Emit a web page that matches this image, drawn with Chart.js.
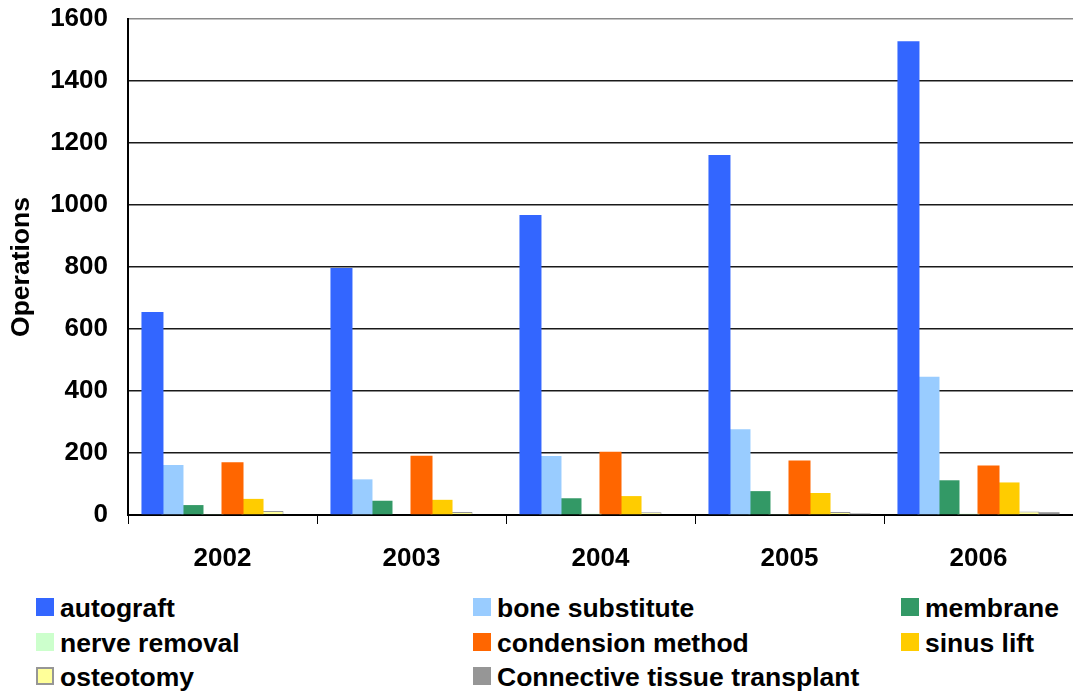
<!DOCTYPE html>
<html>
<head>
<meta charset="utf-8">
<title>Operations 2002-2006</title>
<script src="https://cdn.jsdelivr.net/npm/chart.js@4.4.1/dist/chart.umd.min.js"></script>
<style>
    html, body { margin: 0; padding: 0; background: #fff; }
    #wrap { position: relative; width: 1073px; height: 693px; overflow: hidden; }
    #operationsChart { position: absolute; left: 0; top: 0; }
    .legend-box { position: absolute; width: 18px; height: 18px; box-sizing: border-box; }
    .legend-text { position: absolute; font: bold 26.5px "Liberation Sans", Arial, sans-serif; line-height: 26px; color: #000; white-space: nowrap; }
</style>
</head>
<body>
<div id="wrap">
    <canvas id="operationsChart" width="1073" height="580"></canvas>
    <div id="legend"></div>
</div>
<script>
// data
const years = ['2002', '2003', '2004', '2005', '2006'];
const autograft = [655, 797, 968, 1161, 1528];
const boneSubstitute = [161, 115, 190, 277, 446];
const membrane = [32, 46, 54, 77, 112];
const nerveRemoval = [3, 0, 4, 3, 4];
const condensionMethod = [170, 191, 204, 176, 160];
const sinusLift = [52, 49, 61, 71, 105];
const osteotomy = [13, 10, 9, 10, 11];
const connectiveTissue = [0, 0, 0, 5, 9];
const yTicks = [0, 200, 400, 600, 800, 1000, 1200, 1400, 1600];

const seriesNames = ['autograft', 'bone substitute', 'membrane', 'nerve removal',
    'condension method', 'sinus lift', 'osteotomy', 'Connective tissue transplant'];
const seriesData = [autograft, boneSubstitute, membrane, nerveRemoval,
    condensionMethod, sinusLift, osteotomy, connectiveTissue];
const seriesColors = ['#3366FF', '#99CCFF', '#339966', '#CCFFCC', '#FF6600', '#FFCC00', '#FFFF99', '#969696'];
const seriesBorders = ['#3366FF', '#99CCFF', '#339966', '#CCFFCC', '#FF6600', '#FFCC00', '#969696', '#969696'];

document.addEventListener('DOMContentLoaded', function() {
    const font = { family: '"Liberation Sans", Arial, sans-serif', weight: 'bold', size: 26 };

    const ctx = document.getElementById('operationsChart').getContext('2d');
    const datasets = seriesNames.map(function(name, i) {
        return {
            label: name,
            data: seriesData[i],
            backgroundColor: seriesColors[i],
            borderColor: seriesBorders[i],
            borderWidth: i === 6 ? 1 : 0,
            categoryPercentage: 0.847,
            barPercentage: 1.1
        };
    });

    const operationsChart = new Chart(ctx, {
        type: 'bar',
        data: { labels: years, datasets: datasets },
        options: {
            responsive: false,
            devicePixelRatio: 1,
            animation: false,
            layout: { padding: 0 },
            plugins: {
                legend: { display: false },
                tooltip: { enabled: false }
            },
            scales: {
                x: {
                    grid: {
                        offset: true,
                        drawOnChartArea: false,
                        drawTicks: true,
                        tickLength: 9,
                        color: '#000'
                    },
                    border: { color: '#000', width: 2 },
                    ticks: { color: '#000', font: font, padding: 19 },
                    afterFit: function(scale) { scale.height = 65; }
                },
                y: {
                    min: 0,
                    max: 1600,
                    afterBuildTicks: function(scale) {
                        scale.ticks = yTicks.map(v => ({ value: v }));
                    },
                    grid: {
                        drawTicks: false,
                        color: function(c) { return c.tick && c.tick.value === 1600 ? '#8a8a8a' : '#1a1a1a'; },
                        lineWidth: 1.5
                    },
                    border: { color: '#000', width: 2 },
                    ticks: {
                        color: '#000',
                        font: font,
                        padding: 20,
                        callback: function(value) { return String(value); }
                    },
                    title: {
                        display: true,
                        text: 'Operations',
                        color: '#000',
                        font: { family: font.family, weight: 'bold', size: 26.5 },
                        padding: { top: 6, bottom: 0 }
                    },
                    // fixed axis width and no extra gap above the top label
                    afterFit: function(scale) {
                        scale.width = 128;
                        scale.paddingTop = 19;
                        scale.paddingBottom = 0;
                    }
                }
            }
        }
    });

    // legend in three columns, like the original
    const legend = document.getElementById('legend');
    const colBox = [36, 473, 901];
    const rowBaseline = [617, 652, 686];
    operationsChart.data.datasets.forEach(function(ds, i) {
        const col = i % 3;
        const row = Math.floor(i / 3);
        const box = document.createElement('span');
        box.className = 'legend-box';
        box.style.left = colBox[col] + 'px';
        box.style.top = (rowBaseline[row] - 19) + 'px';
        box.style.background = ds.backgroundColor;
        if (ds.borderWidth) box.style.border = '2px solid ' + ds.borderColor;
        legend.appendChild(box);

        const txt = document.createElement('span');
        txt.className = 'legend-text';
        txt.style.left = (colBox[col] + 24) + 'px';
        txt.style.top = (rowBaseline[row] - 22) + 'px';
        txt.textContent = ds.label;
        legend.appendChild(txt);
    });
});
</script>
</body>
</html>
